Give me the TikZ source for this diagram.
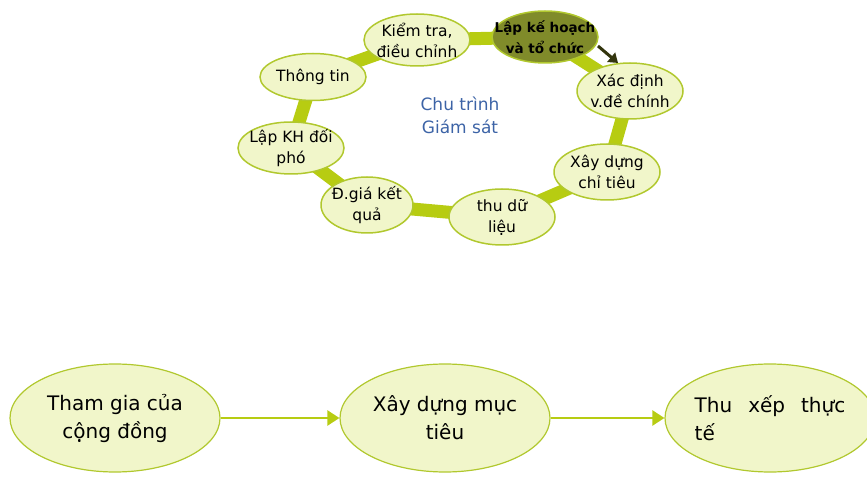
\documentclass[tikz,border=0pt]{standalone}
\usepackage{fontspec}
\setmainfont{DejaVu Sans}
\usetikzlibrary{shapes.geometric,arrows.meta,backgrounds}
\definecolor{ringGreen}{HTML}{B7CC12}
\definecolor{rimGreen}{HTML}{B1C82E}
\definecolor{paleFill}{HTML}{F1F6CA}
\definecolor{oliveFill}{HTML}{808B2A}
\definecolor{arrowDark}{HTML}{33350E}
\definecolor{titleBlue}{HTML}{3C63A6}

\begin{document}
\begin{tikzpicture}[x=1pt,y=-1pt,
  cyc/.style={ellipse,draw=rimGreen,line width=1.5pt,fill=paleFill,
    minimum width=106,minimum height=52,inner sep=0pt},
  cyctext/.style={align=center,font=\fontsize{15.5}{21}\selectfont},
  ring/.style={ringGreen,line width=13pt,line join=round},
  goalbox/.style={ellipse,draw=rimGreen,line width=1.2pt,fill=paleFill,
    minimum width=210,minimum height=108,inner sep=0pt},
  goaltext/.style={font=\fontsize{20}{28}\selectfont},
  flow/.style={ringGreen,line width=2.5pt,-{Triangle[length=12pt,width=15pt]}}]

  \useasboundingbox (0,0) rectangle (867,478);
  \clip (0,0) rectangle (867,478);

  % monitoring cycle
  \node[cyc,label={[cyctext]center:Kiểm tra,\\điều chỉnh}] (check) at (417,40) {};
  \node[cyc,fill=oliveFill,label={[cyctext,font=\fontsize{13.5}{21}\selectfont\bfseries]center:Lập kế hoạch\\và tổ chức}] (plan) at (545,37) {};
  \node[cyc,minimum height=56,label={[cyctext]center:Xác định\\v.đề chính}] (issue) at (630,91) {};
  \node[cyc,minimum height=56,label={[cyctext]center:Xây dựng\\chỉ tiêu}] (target) at (607,172) {};
  \node[cyc,minimum height=56,label={[cyctext]center:thu dữ\\liệu}] (data) at (502,217) {};
  \node[cyc,minimum width=92,minimum height=56,label={[cyctext]center:Đ.giá kết\\quả}] (eval) at (367,205) {};
  \node[cyc,label={[cyctext]center:Lập KH đối\\phó}] (resp) at (291,148) {};
  \node[cyc,minimum height=47,label={[cyctext]center:Thông tin}] (info) at (313,77) {};

  \node[align=center,text=titleBlue,font=\fontsize{17}{23}\selectfont] (cyclename) at (460,115) {Chu trình\\Giám sát};

  \begin{scope}[on background layer]
    \draw[ring] (plan.center) -- (issue.center) -- (target.center) -- (data.center)
      -- (eval.center) -- (resp.center) -- (info.center) -- (check.center) -- cycle;
  \end{scope}

  \coordinate (pstart) at (598,46);
  \coordinate (pend) at (618,63);
  \draw[arrowDark,line width=3pt,-{Triangle[length=9pt,width=12pt]}] (pstart) -- (pend);

  % three steps below
  \node[goalbox,label={[goaltext,align=center]center:Tham gia của\\cộng đồng}] (community) at (115,418) {};
  \node[goalbox,label={[goaltext,align=center]center:Xây dựng mục\\tiêu}] (goal) at (445,418) {};
  \node[goalbox,label={[goaltext,align=left]center:Thu\hspace{16pt}xếp\hspace{16pt}thực\\tế}] (arrange) at (770,418) {};

  \draw[flow] (community) -- (goal);
  \draw[flow] (goal) -- (arrange);

\end{tikzpicture}
\end{document}
